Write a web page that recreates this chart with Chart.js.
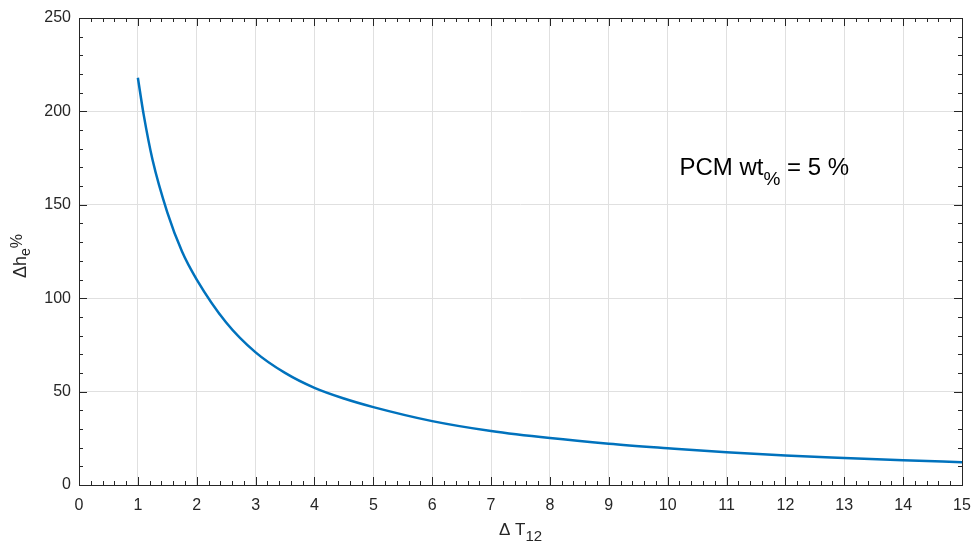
<!DOCTYPE html>
<html>
<head>
<meta charset="utf-8">
<title>Δh_e vs ΔT12</title>
<script src="https://cdn.jsdelivr.net/npm/chart.js@4/dist/chart.umd.min.js"></script>
<style>
  html, body { margin: 0; padding: 0; background: #ffffff; }
  #wrap { width: 974px; height: 544px; }
</style>
</head>
<body>
<div id="wrap">
  <canvas id="curveChart" width="974" height="544"></canvas>
</div>
<script>

/* =========================
   DATA
========================= */

const deltaT = [
  1, 1.1, 1.25, 1.5, 1.75, 2, 2.5, 3, 3.5, 4, 4.5,
  5, 6, 7, 8, 9, 10, 11, 12, 13, 14, 15
];

const deltaH = [
  218, 198, 174, 146, 125, 110, 87, 71, 60, 52, 46.3,
  41.7, 34.2, 28.9, 25.1, 22.1, 19.7, 17.5, 15.8, 14.5, 13.3, 12.2
];

const xTicks = [0, 1, 2, 3, 4, 5, 6, 7, 8, 9, 10, 11, 12, 13, 14, 15];
const yTicks = [0, 50, 100, 150, 200, 250];

const xMinorStep = 0.2;
const yMinorStep = 10;

const AXIS_COLOR = "#262626";
const GRID_COLOR = "#e0e0e0";
const LINE_COLOR = "#0072BD";
const FONT = "'Liberation Sans', Arial, Helvetica, sans-serif";

/* =========================
   TEXT WITH SUB/SUPERSCRIPT
========================= */

function drawRichText(ctx, parts, cx, cy, rotate) {

  ctx.save();
  ctx.translate(cx, cy);
  if (rotate) ctx.rotate(-Math.PI / 2);

  let total = 0;
  parts.forEach(p => {
    ctx.font = `${p.size}px ${FONT}`;
    p.w = ctx.measureText(p.text).width;
    total += p.w;
  });

  let x = -total / 2;
  ctx.fillStyle = AXIS_COLOR;
  ctx.textBaseline = "alphabetic";
  ctx.textAlign = "left";

  parts.forEach(p => {
    ctx.font = `${p.size}px ${FONT}`;
    ctx.fillText(p.text, x, p.dy || 0);
    x += p.w;
  });

  ctx.restore();
}

/* =========================
   BOX, INWARD TICKS, LABELS
========================= */

const matlabAxes = {

  id: "matlabAxes",

  afterDraw(chart) {

    const ctx = chart.ctx;
    const area = chart.chartArea;
    const xs = chart.scales.x;
    const ys = chart.scales.y;

    ctx.save();
    ctx.strokeStyle = AXIS_COLOR;
    ctx.lineWidth = 1;

    // box
    ctx.strokeRect(
      Math.round(area.left) + 0.5,
      Math.round(area.top) + 0.5,
      Math.round(area.right - area.left),
      Math.round(area.bottom - area.top)
    );

    ctx.beginPath();

    // x ticks (bottom + top)
    for (let v = xs.min; v <= xs.max + 1e-9; v += xMinorStep) {
      const major = Math.abs(v - Math.round(v)) < 1e-6;
      const len = major ? 8 : 4;
      const px = Math.round(xs.getPixelForValue(v)) + 0.5;
      ctx.moveTo(px, area.bottom);
      ctx.lineTo(px, area.bottom - len);
      ctx.moveTo(px, area.top);
      ctx.lineTo(px, area.top + len);
    }

    // y ticks (left + right)
    for (let v = ys.min; v <= ys.max + 1e-9; v += yMinorStep) {
      const major = Math.abs(v % 50) < 1e-6;
      const len = major ? 8 : 4;
      const py = Math.round(ys.getPixelForValue(v)) + 0.5;
      ctx.moveTo(area.left, py);
      ctx.lineTo(area.left + len, py);
      ctx.moveTo(area.right, py);
      ctx.lineTo(area.right - len, py);
    }

    ctx.stroke();
    ctx.restore();

    // x axis title: Δ T_12
    drawRichText(ctx, [
      { text: "\u0394 T", size: 17 },
      { text: "12", size: 15, dy: 6 }
    ], (area.left + area.right) / 2, 535, false);

    // y axis title: Δh_e %
    drawRichText(ctx, [
      { text: "\u0394h", size: 18 },
      { text: "e", size: 14, dy: 4 },
      { text: "%", size: 16, dy: -4 }
    ], 26, 256, true);

    // annotation: PCM wt_% = 5 %
    ctx.save();
    ctx.fillStyle = "#000000";
    ctx.textBaseline = "alphabetic";
    ctx.textAlign = "left";
    ctx.font = `24px ${FONT}`;
    const ax = xs.getPixelForValue(10.2);
    const ay = ys.getPixelForValue(166);
    ctx.fillText("PCM wt", ax, ay);
    let w = ctx.measureText("PCM wt").width;
    ctx.font = `19px ${FONT}`;
    ctx.fillText("%", ax + w, ay + 10);
    w += ctx.measureText("%").width;
    ctx.font = `24px ${FONT}`;
    ctx.fillText(" = 5 %", ax + w, ay);
    ctx.restore();
  }

};

/* =========================
   CHART
========================= */

const curveCtx =
  document
    .getElementById("curveChart")
    .getContext("2d");

const curveChart =
  new Chart(curveCtx, {

    type: "line",

    data: {

      datasets: [{

        label: "dh_e",

        data: deltaT.map((t, i) => ({ x: t, y: deltaH[i] })),

        borderColor: LINE_COLOR,

        borderWidth: 2.5,

        pointRadius: 0,

        cubicInterpolationMode: "monotone",

        fill: false
      }]

    },

    options: {

      responsive: false,

      devicePixelRatio: 1,

      animation: false,

      layout: {
        padding: { top: 18, right: 12, left: 0, bottom: 0 }
      },

      plugins: {
        legend: { display: false },
        tooltip: { enabled: false }
      },

      scales: {

        x: {
          type: "linear",
          min: 0,
          max: 15,
          afterBuildTicks: scale => {
            scale.ticks = xTicks.map(v => ({ value: v }));
          },
          afterFit: scale => {
            scale.height = 59;
            scale.paddingLeft = 0;
            scale.paddingRight = 0;
          },
          ticks: {
            color: AXIS_COLOR,
            font: { family: FONT, size: 16 },
            padding: 11,
            maxRotation: 0
          },
          grid: {
            color: GRID_COLOR,
            drawTicks: false
          },
          border: { display: false }
        },

        y: {
          min: 0,
          max: 250,
          afterBuildTicks: scale => {
            scale.ticks = yTicks.map(v => ({ value: v }));
          },
          afterFit: scale => {
            scale.width = 79;
            scale.paddingTop = 0;
            scale.paddingBottom = 0;
          },
          ticks: {
            color: AXIS_COLOR,
            font: { family: FONT, size: 16 },
            padding: 8
          },
          grid: {
            color: GRID_COLOR,
            drawTicks: false
          },
          border: { display: false }
        }

      }

    },

    plugins: [matlabAxes]

  });

</script>
</body>
</html>
